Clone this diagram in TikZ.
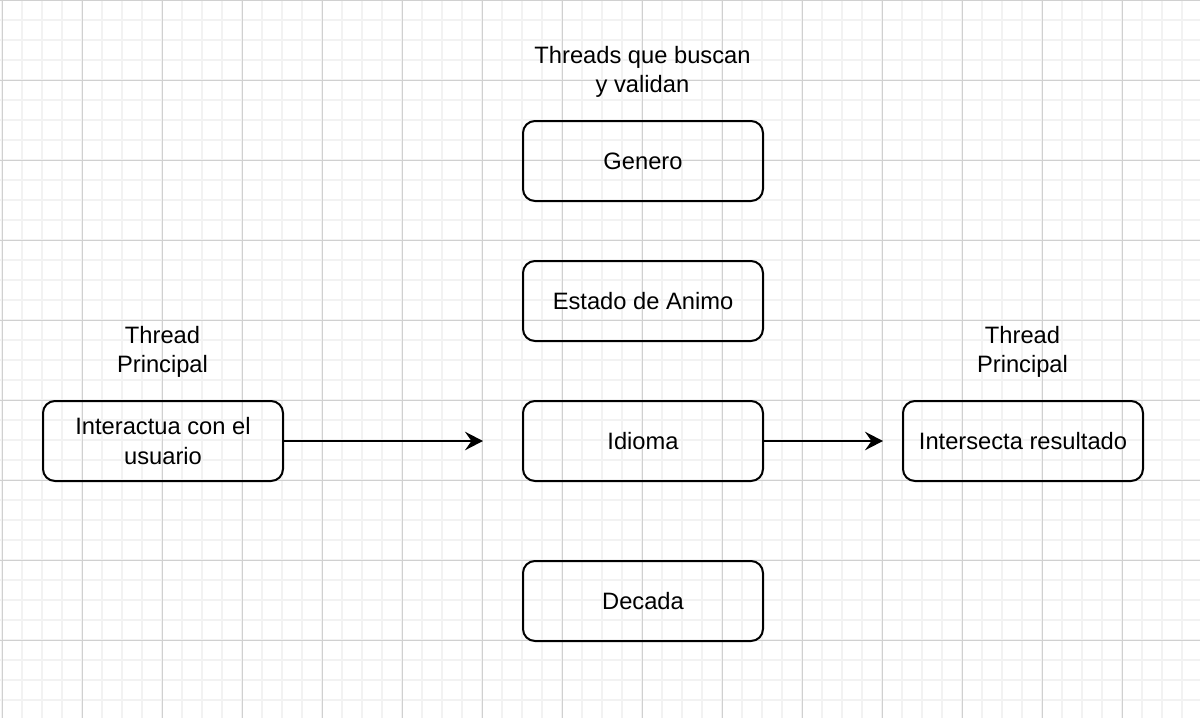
\documentclass[tikz,border=0pt]{standalone}
\usepackage{fontspec}
\setmainfont{Liberation Sans}
\usetikzlibrary{arrows.meta}
\definecolor{gridminor}{HTML}{F2F2F2}
\definecolor{gridmajor}{HTML}{D0D0D0}
\begin{document}
\begin{tikzpicture}[x=1pt,y=-1pt,
  box/.style={draw=black, line width=2pt, rounded corners=12pt, minimum width=240pt, minimum height=80pt, inner sep=0pt, outer sep=0pt, align=center, font=\fontsize{23.7}{29.5}\selectfont},
  lbl/.style={align=center, inner sep=0pt, font=\fontsize{23.7}{29.5}\selectfont},
  conn/.style={line width=2pt, -{Stealth[length=18pt, width=18.5pt, inset=6.5pt]}},
  minorline/.style={gridminor, line width=1.5pt},
  majorline/.style={gridmajor, line width=1pt}]
\useasboundingbox (0,0) rectangle (1200,718);
\fill[white] (0,0) rectangle (1200,718);
\foreach \x in {2,22,...,1182} \draw[minorline] (\x,0) -- (\x,718);
\foreach \y in {0,20,...,700} \draw[minorline] (0,\y) -- (1200,\y);
\foreach \x in {2,82,...,1162} \draw[majorline] (\x,0) -- (\x,718);
\foreach \y in {0,80,...,640} \draw[majorline] (0,\y) -- (1200,\y);

\node[lbl] (ttop) at (642.5,72) {Threads que buscan\\y validan};
\node[lbl] (tleft) at (162.5,352) {Thread\\Principal};
\node[lbl] (tright) at (1022.5,352) {Thread\\Principal};

\node[box] (genero) at (643,161) {Genero};
\node[box] (estado) at (643,301) {Estado de Animo};
\node[box] (idioma) at (643,441) {Idioma};
\node[box] (decada) at (643,601) {Decada};
\node[box] (inter) at (163,441) {Interactua con el\\usuario};
\node[box] (inters) at (1023,441) {Intersecta resultado};

\coordinate (a1) at (483,441);
\coordinate (a2) at (883,441);
\draw[conn] (inter.east) -- (a1);
\draw[conn] (idioma.east) -- (a2);
\end{tikzpicture}
\end{document}
